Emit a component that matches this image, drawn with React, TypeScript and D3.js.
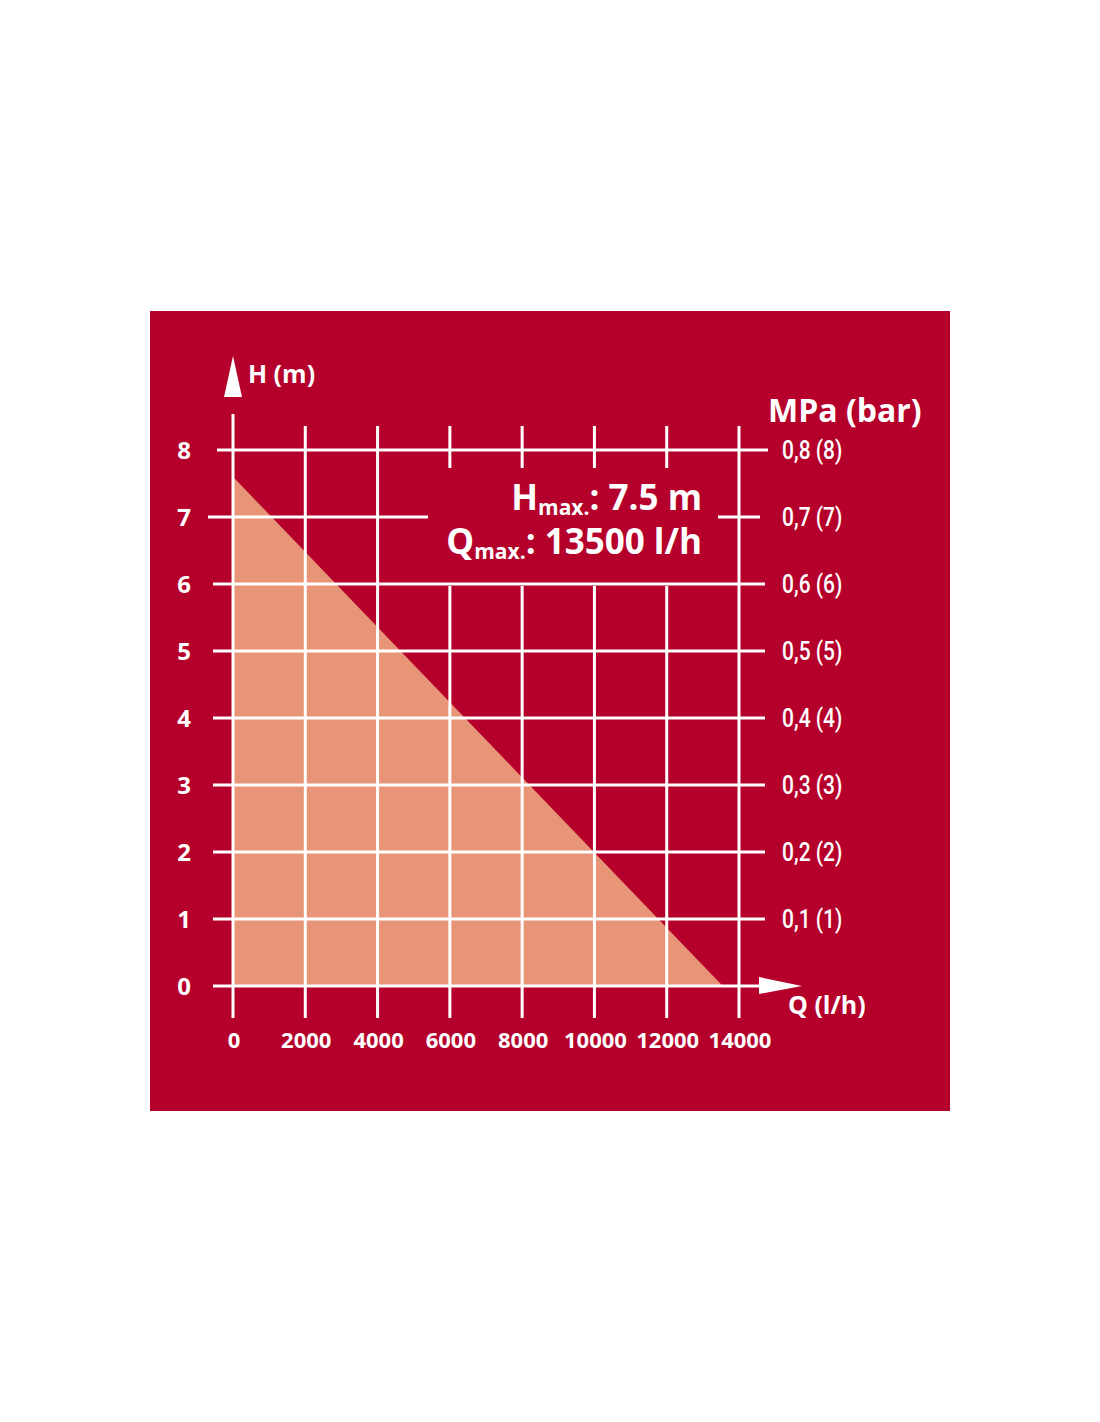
import React from "react";
import * as d3 from "d3";

const flowTicks = [0, 2000, 4000, 6000, 8000, 10000, 12000, 14000];
const headTicks = [0, 1, 2, 3, 4, 5, 6, 7, 8];
const pressureLabels = ["", "0,1 (1)", "0,2 (2)", "0,3 (3)", "0,4 (4)", "0,5 (5)", "0,6 (6)", "0,7 (7)", "0,8 (8)"];
const curveQ = [0, 0, 13550];
const curveH = [0, 7.6, 0];
const hMaxText = "7.5 m";
const qMaxText = "13500 l/h";

const BG = "#b5002b";
const FILL = "#e89477";
const W = "#ffffff";
const FONT = "'Open Sans', 'Noto Sans', sans-serif";
const COND = "Roboto, 'Noto Sans', sans-serif";

export default function App() {
  const x = d3.scaleLinear().domain([0, 14000]).range([233, 739]);
  const y = d3.scaleLinear().domain([0, 8]).range([986, 450]);
  const box = { x0: 428, x1: 718, y0: 468, y1: 586 };

  const area = d3
    .line<number>()
    .x((i) => x(curveQ[i]))
    .y((i) => y(curveH[i]));
  const pts = curveQ.map((_, i) => i);

  const sw = 3;
  return (
    <svg
      width={1100}
      height={1422}
      style={{ position: "absolute", left: 0, top: 0, background: "#fff" }}
    >
      <rect x={150} y={311} width={800} height={800} fill={BG} />
      <path d={area(pts) + "Z"} fill={FILL} />

      {/* horizontal grid lines */}
      {headTicks.map((h) => {
        const yy = y(h);
        const xr = h === 8 ? 768 : 765;
        const xl = h === 8 ? 217 : h === 7 ? 208 : 213;
        if (h === 7) {
          return (
            <g key={h}>
              <line x1={xl} x2={box.x0} y1={yy} y2={yy} stroke={W} strokeWidth={sw} />
              <line x1={box.x1} x2={760} y1={yy} y2={yy} stroke={W} strokeWidth={sw} />
            </g>
          );
        }
        return <line key={h} x1={xl} x2={xr} y1={yy} y2={yy} stroke={W} strokeWidth={sw} />;
      })}

      {/* vertical grid lines */}
      {flowTicks.map((q) => {
        const xx = x(q);
        const top = q === 0 ? 414 : 426;
        if (xx > box.x0 && xx < box.x1) {
          return (
            <g key={q}>
              <line x1={xx} x2={xx} y1={top} y2={box.y0} stroke={W} strokeWidth={sw} />
              <line x1={xx} x2={xx} y1={box.y1} y2={1018} stroke={W} strokeWidth={sw} />
            </g>
          );
        }
        return <line key={q} x1={xx} x2={xx} y1={top} y2={1018} stroke={W} strokeWidth={sw} />;
      })}

      {/* axis arrows */}
      <path d={`M${x(0)},356 L242,397 L224,397 Z`} fill={W} />
      <path d={`M759,977 L802,${y(0)} L759,994 Z`} fill={W} />

      {/* axis titles */}
      <text x={248} y={383} fill={W} fontFamily={FONT} fontWeight={700} fontSize={25}>H (m)</text>
      <text x={768} y={422} fill={W} fontFamily={FONT} fontWeight={700} fontSize={32}>MPa (bar)</text>
      <text x={788} y={1014} fill={W} fontFamily={FONT} fontWeight={700} fontSize={25}>Q (l/h)</text>

      {/* left tick labels */}
      {headTicks.map((h) => (
        <text key={h} x={184} y={y(h) + 9} fill={W} fontFamily={FONT} fontWeight={700} fontSize={24} textAnchor="middle">
          {h}
        </text>
      ))}

      {/* right tick labels */}
      {headTicks.filter((h) => pressureLabels[h]).map((h) => (
        <text
          key={h}
          transform={`translate(782,${y(h) + 9}) scale(0.84,1)`}
          fill={W}
          fontFamily={COND}
          fontWeight={500}
          fontSize={25}
        >
          {pressureLabels[h]}
        </text>
      ))}

      {/* bottom tick labels */}
      {flowTicks.map((q) => (
        <text key={q} x={x(q) + 1} y={1048} fill={W} fontFamily={FONT} fontWeight={700} fontSize={22} textAnchor="middle">
          {q}
        </text>
      ))}

      {/* max annotation */}
      <text x={702} y={510} fill={W} fontFamily={FONT} fontWeight={700} fontSize={35} textAnchor="end">
        H<tspan fontSize={21} dy={5}>max.</tspan>
        <tspan dy={-5}>: {hMaxText}</tspan>
      </text>
      <text x={702} y={554} fill={W} fontFamily={FONT} fontWeight={700} fontSize={35} textAnchor="end">
        Q<tspan fontSize={21} dy={5}>max.</tspan>
        <tspan dy={-5}>: {qMaxText}</tspan>
      </text>
    </svg>
  );
}
